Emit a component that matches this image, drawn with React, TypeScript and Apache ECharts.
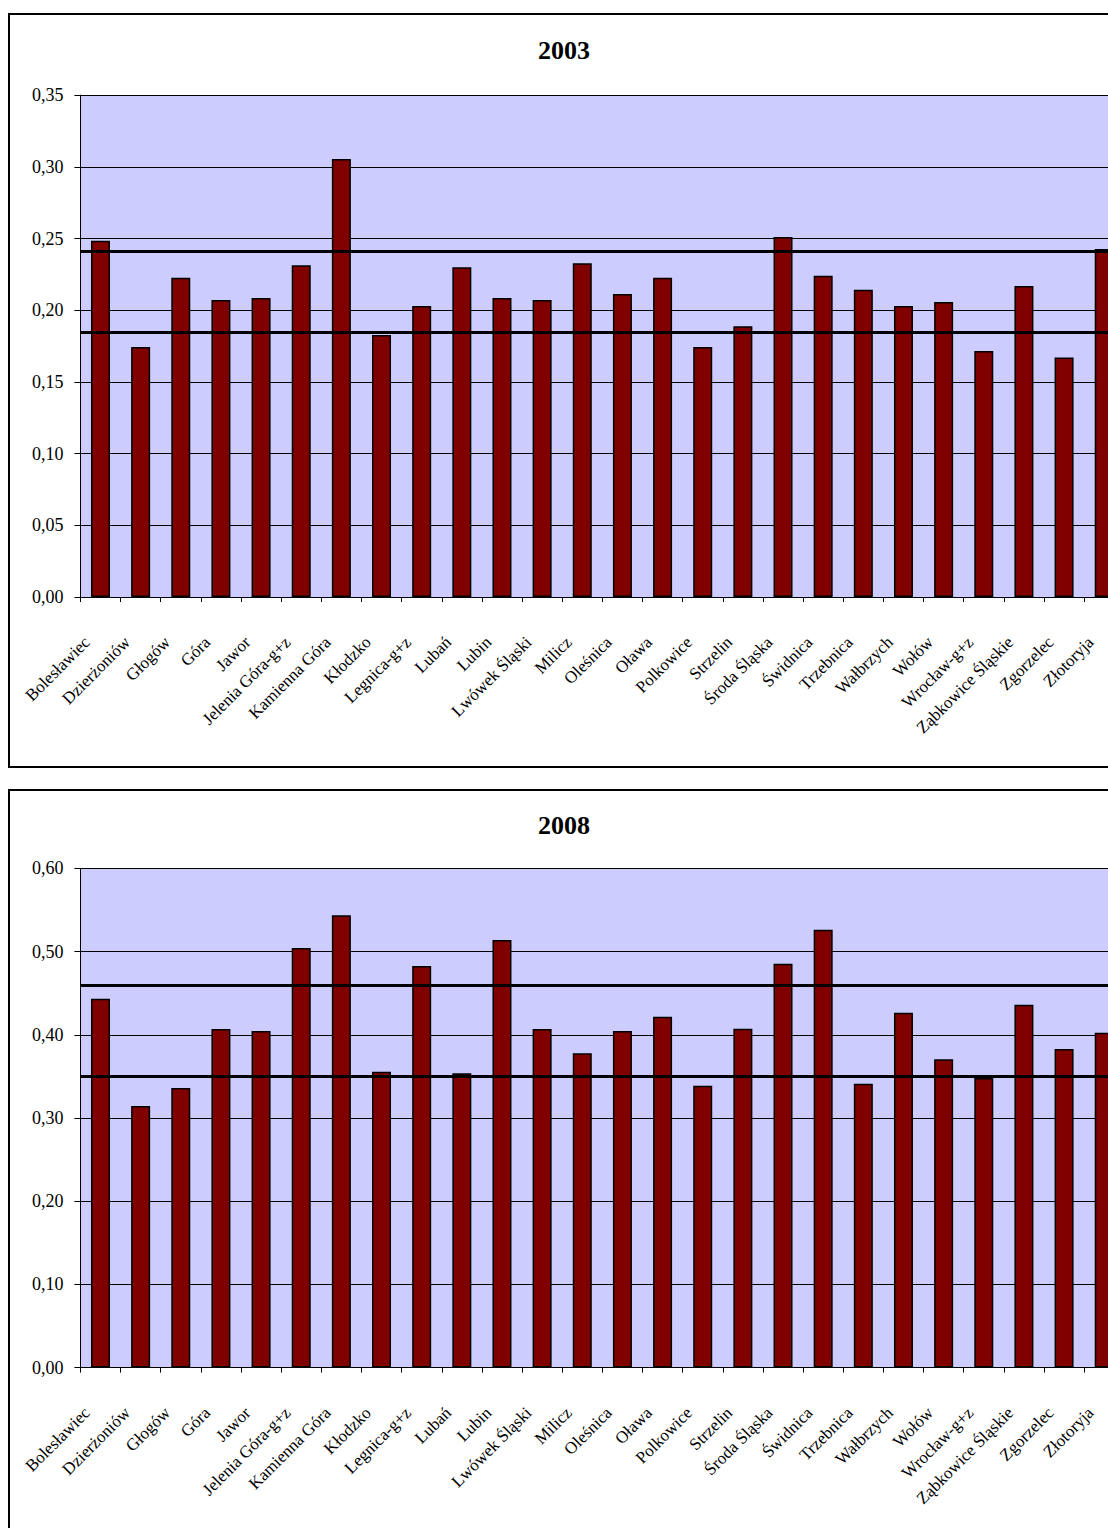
import React, { useEffect, useRef } from "react";
import * as echarts from "echarts";

const categories = [
  "Bolesławiec", "Dzierżoniów", "Głogów", "Góra", "Jawor", "Jelenia Góra-g+z",
  "Kamienna Góra", "Kłodzko", "Legnica-g+z", "Lubań", "Lubin", "Lwówek Śląski",
  "Milicz", "Oleśnica", "Oława", "Polkowice", "Strzelin", "Środa Śląska",
  "Świdnica", "Trzebnica", "Wałbrzych", "Wołów", "Wrocław-g+z",
  "Ząbkowice Śląskie", "Zgorzelec", "Złotoryja",
];

const values2003 = [
  0.2485, 0.1743, 0.2227, 0.2071, 0.2085, 0.2313, 0.3054, 0.1827, 0.2029,
  0.2299, 0.2085, 0.2071, 0.2327, 0.2113, 0.2227, 0.1743, 0.1888, 0.251,
  0.2241, 0.2143, 0.2029, 0.2057, 0.1715, 0.2169, 0.1671, 0.2427,
];

const values2008 = [
  0.4434, 0.3144, 0.3361, 0.407, 0.4046, 0.5043, 0.5436, 0.3557, 0.4827,
  0.3537, 0.5139, 0.407, 0.3777, 0.4046, 0.4218, 0.3388, 0.4074, 0.4855,
  0.5263, 0.3412, 0.4266, 0.3705, 0.348, 0.4362, 0.3829, 0.4025,
];

const refLines2003 = [0.2413, 0.1843];
const refLines2008 = [0.459, 0.3497];

const titles = ["2003", "2008"];
const yMax = [0.35, 0.6];
const yInterval = [0.05, 0.1];

const FONT = '"Liberation Serif", "Times New Roman", serif';

export default function App() {
  const ref = useRef<HTMLDivElement>(null);

  useEffect(() => {
    if (!ref.current) return;
    const chart = echarts.init(ref.current, undefined, { renderer: "svg" });

    const grids = [
      { left: 80.4, top: 95.1, width: 1043.9, height: 501.9 },
      { left: 80.4, top: 868.4, width: 1043.9, height: 499.2 },
    ];
    const seriesValues = [values2003, values2008];
    const refs = [refLines2003, refLines2008];

    const option: any = {
      animation: false,
      backgroundColor: "#ffffff",
      textStyle: { fontFamily: FONT },
      grid: grids.map((g) => ({
        ...g,
        show: true,
        backgroundColor: "#CCCCFF",
        borderWidth: 0,
        containLabel: false,
      })),
      xAxis: grids.map((_, i) => ({
        type: "category",
        gridIndex: i,
        data: categories,
        boundaryGap: true,
        axisLine: { show: true, lineStyle: { color: "#000", width: 1 } },
        axisTick: { show: true, length: 5, lineStyle: { color: "#000", width: 1 } },
        axisLabel: {
          interval: 0,
          rotate: 45,
          fontSize: 17,
          fontFamily: FONT,
          color: "#000",
          margin: 29,
          padding: [0, 19, 0, 0],
        },
        splitLine: { show: false },
      })),
      yAxis: grids.map((_, i) => ({
        type: "value",
        gridIndex: i,
        min: 0,
        max: yMax[i],
        interval: yInterval[i],
        axisLine: { show: true, lineStyle: { color: "#000", width: 1 } },
        axisTick: { show: true, length: 6, lineStyle: { color: "#000", width: 1 } },
        axisLabel: {
          fontSize: 18,
          fontFamily: FONT,
          color: "#000",
          margin: 17,
          formatter: (v: number) => v.toFixed(2).replace(".", ","),
        },
        splitLine: { show: true, lineStyle: { color: "#000", width: 1 } },
      })),
      series: grids.map((_, i) => ({
        type: "bar",
        xAxisIndex: i,
        yAxisIndex: i,
        data: seriesValues[i],
        barWidth: 19,
        itemStyle: { color: "#800000", borderColor: "#000", borderWidth: 1.5 },
        markLine: {
          silent: true,
          precision: 4,
          symbol: ["none", "none"],
          label: { show: false },
          lineStyle: { color: "#000", width: 3, type: "solid" },
          data: refs[i].map((v) => ({ yAxis: v })),
        },
      })),
      graphic: [
        {
          type: "rect",
          shape: { x: 9, y: 14, width: 1150, height: 753 },
          style: { fill: "none", stroke: "#000", lineWidth: 2 },
          z: 100,
        },
        {
          type: "rect",
          shape: { x: 9, y: 790, width: 1150, height: 760 },
          style: { fill: "none", stroke: "#000", lineWidth: 2 },
          z: 100,
        },
        {
          type: "text",
          x: 564,
          y: 50,
          style: {
            text: titles[0],
            font: `bold 26px ${FONT}`,
            fill: "#000",
            textAlign: "center",
            textVerticalAlign: "middle",
          },
        },
        {
          type: "text",
          x: 564,
          y: 825,
          style: {
            text: titles[1],
            font: `bold 26px ${FONT}`,
            fill: "#000",
            textAlign: "center",
            textVerticalAlign: "middle",
          },
        },
      ],
    };

    chart.setOption(option);
    return () => chart.dispose();
  }, []);

  return (
    <div
      style={{
        position: "absolute",
        left: 0,
        top: 0,
        width: 1108,
        height: 1528,
        overflow: "hidden",
        background: "#fff",
      }}
    >
      <div ref={ref} style={{ width: 1180, height: 1528 }} />
    </div>
  );
}
